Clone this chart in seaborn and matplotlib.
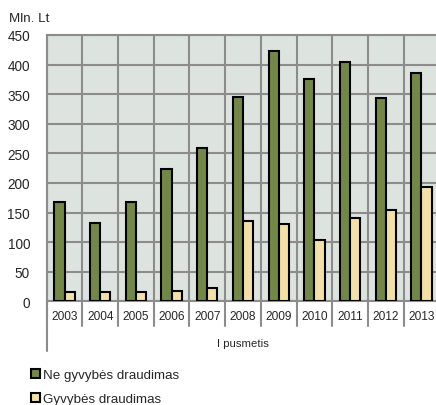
import matplotlib
matplotlib.use("Agg")
import matplotlib.pyplot as plt
import seaborn as sns
import pandas as pd
from matplotlib import font_manager

years = ["2003", "2004", "2005", "2006", "2007", "2008", "2009", "2010", "2011", "2012", "2013"]
ne_gyvybes = [168, 133, 167, 224, 259, 345, 423, 375, 405, 344, 385]
gyvybes = [15, 15, 15, 18, 23, 136, 131, 103, 141, 155, 193]
series_names = ["Ne gyvybės draudimas", "Gyvybės draudimas"]
yticks = [0, 50, 100, 150, 200, 250, 300, 350, 400, 450]

df = pd.DataFrame({
    "year": years * 2,
    "value": ne_gyvybes + gyvybes,
    "series": [series_names[0]] * len(years) + [series_names[1]] * len(years),
})

sns.set_style("white")
plt.rcParams["font.family"] = ["Liberation Sans", "DejaVu Sans"]

names = {f.name for f in font_manager.fontManager.ttflist}
narrow = "Liberation Sans Narrow" if "Liberation Sans Narrow" in names else None
print("narrow:", narrow)

W, H = 436, 406
fig = plt.figure(figsize=(W / 100, H / 100), dpi=100)
left, right, top, bottom = 46.7, 439.3, 36.0, 302.3
ax = fig.add_axes([left / W, 1 - bottom / H, (right - left) / W, (bottom - top) / H])
ax.set_facecolor("#DDE4DF")

green = "#77933C"
yellow = "#FFE699"
grid_c = "#8C8C8C"

sns.barplot(data=df, x="year", y="value", hue="series", palette=[green, yellow],
            width=0.57, edgecolor="black", linewidth=1.5, ax=ax, zorder=3)

ax.set_xlim(-0.5, len(years) - 0.5)
ax.set_ylim(0, 450)
ax.set_yticks(yticks)
ax.set_yticklabels([str(v) for v in yticks], fontsize=9.8)
ax.set_xlabel("")
ax.set_ylabel("")
if narrow:
    ax.set_xticks(range(len(years)))
    ax.set_xticklabels(years, fontsize=9.3, family=[narrow, "Liberation Sans"])
else:
    ax.set_xticks(range(len(years)))
    ax.set_xticklabels(years, fontsize=8.6)
ax.tick_params(axis="x", length=0, pad=6)
ax.tick_params(axis="y", length=5, width=1.5, color=grid_c, pad=7)

ax.grid(axis="y", color=grid_c, linewidth=1.5, zorder=0)
ax.set_axisbelow(True)
for k in range(len(years) + 1):
    ax.axvline(k - 0.5, color=grid_c, linewidth=1.5, zorder=1)
    ax.axvline(k - 0.5, ymin=-24.4 / 266.3, ymax=0, color=grid_c, linewidth=1.5, clip_on=False)
ax.axvline(-0.5, ymin=-49.4 / 266.3, ymax=0, color=grid_c, linewidth=1.5, clip_on=False)

for s in ["left", "top", "bottom"]:
    ax.spines[s].set_color(grid_c)
    ax.spines[s].set_linewidth(1.5)
ax.spines["right"].set_visible(False)

handles, labels = ax.get_legend_handles_labels()
ax.get_legend().remove()
fig.legend(handles, labels, loc="upper left", bbox_to_anchor=(26 / W, 1 - 365 / H),
           frameon=False, fontsize=9.6, handlelength=0.65, handleheight=0.65,
           handletextpad=0.25, labelspacing=0.85, borderaxespad=0)

fig.text(9 / W, 1 - 18.5 / H, "Mln. Lt", fontsize=9.6, va="center", ha="left")
fig.text(242.6 / W, 1 - 344 / H, "I pusmetis", fontsize=8.2, va="center", ha="center")

fig.savefig("out.png", dpi=100)
